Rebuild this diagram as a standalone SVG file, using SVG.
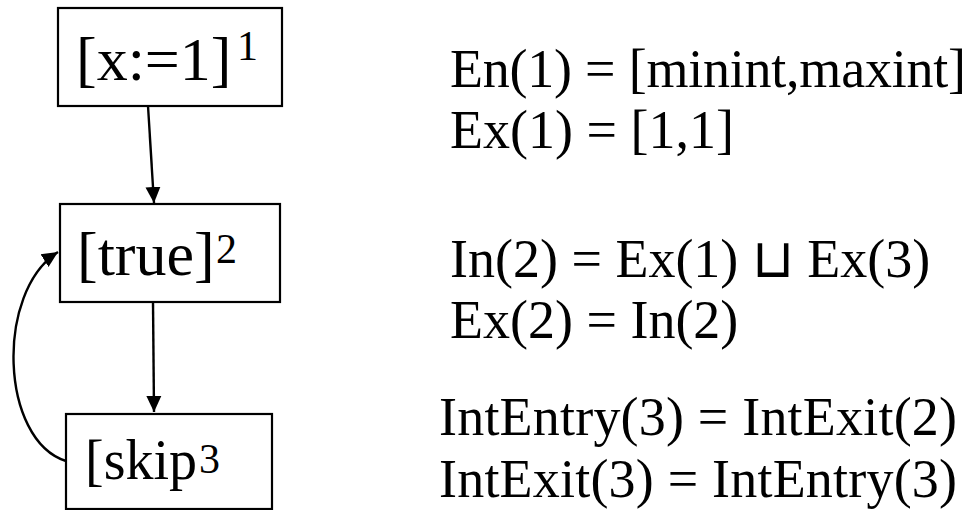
<svg xmlns="http://www.w3.org/2000/svg" width="969" height="510" viewBox="0 0 969 510">
<style>
.box{fill:#fff;stroke:#000;stroke-width:2.2}
.lbl{font-family:"Liberation Serif","Times New Roman",serif;font-size:62px;fill:#000}
.sup{font-family:"Liberation Serif","Times New Roman",serif;font-size:42px;fill:#000}
.eq{font-family:"Liberation Serif","Times New Roman",serif;font-size:54px;fill:#000}
.op{font-family:"DejaVu Sans",sans-serif;font-size:54px;font-weight:200}
.edge{fill:none;stroke:#000;stroke-width:2.4}
</style>
<defs>
<marker id="ah" markerUnits="userSpaceOnUse" markerWidth="18" markerHeight="18" viewBox="0 0 18 18" refX="16" refY="9" orient="auto">
<path d="M0,1.5 L16,9 L0,16.5 Z" fill="#000"/>
</marker>
</defs>
<g id="n1">
<rect class="box" x="58" y="8" width="224" height="98"/>
<text class="lbl" x="76" y="80">[x:=1]</text>
<text class="sup" x="237" y="60">1</text>
</g>
<g id="n2">
<rect class="box" x="60" y="204" width="220" height="98"/>
<text class="lbl" x="77" y="275">[true]</text>
<text class="sup" x="216" y="263">2</text>
</g>
<g id="n3">
<rect class="box" x="66" y="414" width="206" height="95"/>
<text class="lbl" x="85" y="479" style="font-size:56px">[skip</text>
<text class="sup" x="199" y="473">3</text>
</g>
<g id="edges">
<path class="edge" d="M148,106 L154,203" marker-end="url(#ah)"/>
<path class="edge" d="M153,302 L154,412" marker-end="url(#ah)"/>
<path class="edge" d="M66,461 C0,440 -5,292 58,252" marker-end="url(#ah)"/>
</g>
<g id="eqs">
<text class="eq" x="450" y="87" textLength="516">En(1) = [minint,maxint]</text>
<text class="eq" x="450" y="148">Ex(1) = [1,1]</text>
<text class="eq" x="450" y="277">In(2) = Ex(1) <tspan class="op">⊔</tspan> Ex(3)</text>
<text class="eq" x="450" y="338">Ex(2) = In(2)</text>
<text class="eq" x="439" y="435" textLength="518">IntEntry(3) = IntExit(2)</text>
<text class="eq" x="439" y="497" textLength="518">IntExit(3) = IntEntry(3)</text>
</g>
</svg>
